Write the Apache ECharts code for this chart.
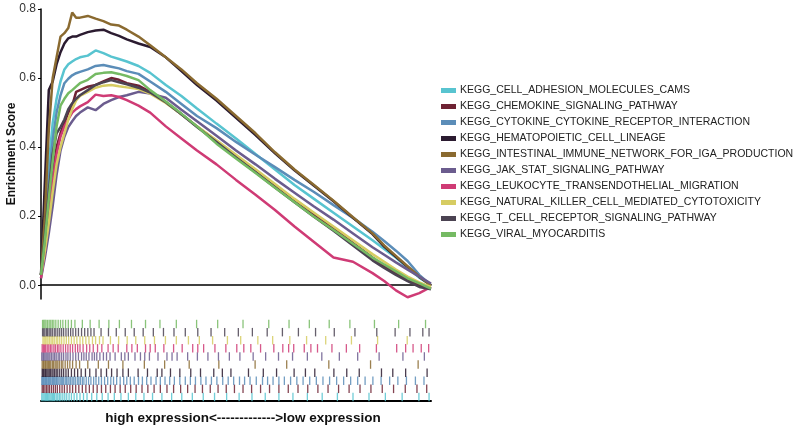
<!DOCTYPE html>
<html>
<head>
<meta charset="utf-8">
<script src="https://cdn.jsdelivr.net/npm/echarts@6/dist/echarts.min.js"></script>
<style>
html,body{margin:0;padding:0;background:#fff;}
#chart{width:800px;height:426px;}
</style>
</head>
<body>
<div id="chart"></div>
<script>
// Gene set names (legend order)
const setNames = [
  'KEGG_CELL_ADHESION_MOLECULES_CAMS',
  'KEGG_CHEMOKINE_SIGNALING_PATHWAY',
  'KEGG_CYTOKINE_CYTOKINE_RECEPTOR_INTERACTION',
  'KEGG_HEMATOPOIETIC_CELL_LINEAGE',
  'KEGG_INTESTINAL_IMMUNE_NETWORK_FOR_IGA_PRODUCTION',
  'KEGG_JAK_STAT_SIGNALING_PATHWAY',
  'KEGG_LEUKOCYTE_TRANSENDOTHELIAL_MIGRATION',
  'KEGG_NATURAL_KILLER_CELL_MEDIATED_CYTOTOXICITY',
  'KEGG_T_CELL_RECEPTOR_SIGNALING_PATHWAY',
  'KEGG_VIRAL_MYOCARDITIS'
];
const setColors = ['#58C4D0','#6E2233','#5B8DB8','#2B1B30','#8A6A30','#6B5C8E','#CF3B75','#D6CC62','#4B4352','#75BA63'];

// Rank position (% of ranked gene list)
const rankPct = [0,1,2,3,4,5,6,7,8,9,10,12,14,16,18,20,22,25,28,32,36,40,45,50,55,60,65,70,75,80,85,88,91,94,97,100];

// Running enrichment scores
const esCellAdhesion = [0.03,0.18,0.35,0.47,0.54,0.59,0.625,0.64,0.648,0.655,0.66,0.665,0.68,0.672,0.662,0.655,0.648,0.635,0.615,0.58,0.548,0.512,0.468,0.425,0.38,0.335,0.29,0.25,0.21,0.17,0.13,0.105,0.08,0.05,0.022,0.0];
const esChemokine = [0.03,0.12,0.22,0.32,0.40,0.44,0.47,0.50,0.52,0.56,0.565,0.575,0.58,0.59,0.60,0.595,0.585,0.578,0.56,0.53,0.495,0.46,0.418,0.375,0.332,0.288,0.245,0.205,0.165,0.122,0.08,0.055,0.035,0.015,0.0,-0.01];
const esCytokine = [0.03,0.15,0.30,0.42,0.50,0.55,0.585,0.598,0.608,0.614,0.618,0.625,0.635,0.638,0.633,0.628,0.62,0.612,0.59,0.56,0.525,0.49,0.455,0.415,0.378,0.342,0.305,0.27,0.232,0.195,0.155,0.128,0.10,0.07,0.03,0.0];
const esHematopoietic = [0.03,0.30,0.565,0.59,0.64,0.675,0.70,0.715,0.72,0.72,0.725,0.733,0.738,0.74,0.73,0.722,0.712,0.70,0.69,0.66,0.62,0.58,0.535,0.485,0.435,0.382,0.333,0.288,0.243,0.195,0.148,0.112,0.082,0.053,0.024,0.0];
const esIntestinal = [0.03,0.20,0.45,0.60,0.66,0.72,0.73,0.745,0.79,0.775,0.775,0.78,0.772,0.765,0.755,0.752,0.74,0.72,0.695,0.66,0.625,0.585,0.54,0.49,0.44,0.385,0.335,0.29,0.245,0.197,0.15,0.115,0.085,0.055,0.025,0.0];
const esJakStat = [0.02,0.08,0.15,0.23,0.32,0.39,0.43,0.458,0.475,0.49,0.50,0.515,0.507,0.525,0.536,0.545,0.55,0.56,0.555,0.543,0.508,0.475,0.433,0.39,0.35,0.308,0.268,0.228,0.19,0.15,0.11,0.088,0.066,0.045,0.025,0.005];
const esLeukocyte = [0.02,0.10,0.20,0.30,0.38,0.43,0.46,0.48,0.50,0.51,0.518,0.53,0.552,0.548,0.55,0.545,0.536,0.52,0.50,0.46,0.425,0.39,0.35,0.305,0.262,0.218,0.17,0.125,0.08,0.068,0.035,0.012,-0.015,-0.035,-0.023,-0.005];
const esNaturalKiller = [0.03,0.10,0.18,0.27,0.35,0.40,0.44,0.48,0.51,0.535,0.548,0.56,0.572,0.578,0.58,0.576,0.573,0.568,0.555,0.528,0.495,0.46,0.42,0.378,0.336,0.293,0.25,0.21,0.17,0.13,0.09,0.068,0.045,0.025,0.008,-0.005];
const esTCell = [0.03,0.14,0.27,0.38,0.44,0.458,0.48,0.51,0.527,0.54,0.55,0.565,0.58,0.588,0.594,0.588,0.582,0.572,0.558,0.53,0.495,0.458,0.415,0.37,0.327,0.283,0.24,0.198,0.158,0.115,0.072,0.05,0.03,0.012,-0.005,-0.012];
const esViral = [0.03,0.13,0.25,0.36,0.46,0.52,0.54,0.556,0.565,0.575,0.585,0.595,0.612,0.615,0.617,0.612,0.606,0.594,0.565,0.532,0.497,0.46,0.41,0.367,0.325,0.282,0.24,0.198,0.16,0.12,0.08,0.06,0.04,0.02,0.005,-0.01];

// Hit positions (% of ranked list) for the rug panel
const hitsCellAdhesion = [0.2,0.5,0.8,1.1,1.4,1.7,2.0,2.3,2.6,2.9,3.2,3.5,3.9,4.3,4.7,5.1,5.6,6.1,6.6,7.2,7.8,8.5,9.2,10.0,10.9,11.8,13.0,14.3,15.7,17.2,18.8,20.5,22.4,24.3,26.4,28.6,31.0,33.5,36.1,38.8,41.6,44.5,47.6,50.8,54.1,57.5,61.0,64.6,68.3,72.1,76.0,80.0,84.1,88.3,92.6,96.9,99.5];
const hitsChemokine = [0.3,0.6,1.0,1.4,1.8,2.2,2.7,3.2,3.7,4.2,4.8,5.4,6.0,6.7,7.4,8.1,8.9,9.7,10.6,11.5,12.4,13.4,14.4,15.5,16.6,17.8,19.0,20.3,21.6,23.0,24.4,25.9,27.4,29.0,30.6,32.3,34.0,35.8,37.6,39.5,41.4,43.4,45.4,47.5,49.6,51.8,54.0,56.3,58.6,61.0,63.4,65.9,68.4,71.0,73.6,76.3,79.0,81.8,84.6,87.5,90.4,93.4,96.4,98.9];
const hitsCytokine = [0.2,0.4,0.6,0.8,1.0,1.2,1.4,1.6,1.9,2.1,2.3,2.5,2.8,3.0,3.2,3.5,3.8,4.0,4.3,4.6,4.9,5.2,5.5,5.8,6.2,6.5,6.9,7.2,7.6,8.0,8.4,8.8,9.3,9.7,10.1,10.6,11.0,11.6,12.2,12.8,13.5,14.1,14.8,15.5,16.3,17.1,17.9,18.6,19.4,20.3,21.2,22.0,22.9,23.9,25.0,26.0,27.1,28.2,29.5,30.6,31.8,33.0,34.2,35.6,37.0,38.3,39.6,41.0,42.3,43.7,45.1,46.6,48.0,49.4,50.9,52.2,53.6,55.2,56.8,58.1,59.5,61.0,62.4,64.0,65.6,67.2,68.9,70.6,72.3,74.0,75.8,77.6,79.4,81.2,83.1,85.1,87.2,89.4,91.5,93.7,96.0,98.2];
const hitsHematopoietic = [0.3,0.5,0.7,1.0,1.2,1.5,1.8,2.1,2.4,2.8,3.1,3.5,3.9,4.3,4.8,5.3,5.8,6.4,7.0,7.8,8.6,9.4,10.3,11.4,12.5,14.1,15.4,16.8,18.1,19.5,21.0,22.4,24.9,27.3,29.8,31.0,33.2,35.6,38.4,40.9,44.3,46.5,48.7,53.2,57.0,60.4,64.9,67.8,70.2,75.1,78.4,81.6,87.3,90.2,93.5,99.0];
const hitsIntestinal = [0.3,0.6,0.8,1.1,1.3,1.6,1.9,2.2,2.5,2.9,3.2,3.6,3.9,4.3,4.7,5.2,5.6,6.2,6.8,7.4,8.1,9.0,9.9,12.0,14.7,17.3,21.0,26.5,31.7,38.0,45.6,54.9,63.0,73.8,84.5,96.7];
const hitsJakStat = [0.2,0.5,0.7,1.0,1.3,1.6,2.0,2.3,2.7,3.1,3.5,3.9,4.4,4.8,5.3,5.8,6.4,6.9,7.5,8.2,8.9,9.6,10.4,11.0,11.6,12.3,13.1,13.7,14.3,15.1,16.0,16.8,17.7,19.0,20.6,21.5,22.4,24.1,25.5,26.6,27.8,30.0,32.3,33.6,34.9,37.6,40.1,42.8,45.5,48.3,51.0,54.4,57.6,60.9,64.5,68.3,72.0,76.5,81.2,86.7,92.8,98.3];
const hitsLeukocyte = [0.3,0.6,0.9,1.2,1.6,2.0,2.4,2.8,3.3,3.7,4.2,4.6,5.1,5.7,6.3,6.9,7.5,8.1,8.8,9.4,10.0,10.8,11.7,12.5,13.4,14.5,15.6,17.2,18.5,19.8,22.0,23.3,24.7,26.8,28.0,29.3,31.5,34.0,36.2,38.9,40.2,41.7,44.6,47.4,50.2,52.0,53.8,56.3,59.7,62.0,63.5,64.8,67.5,69.2,70.9,74.6,78.3,81.7,86.0,91.2,93.5,95.4,97.5,99.4];
const hitsNaturalKiller = [0.5,0.8,1.1,1.5,1.8,2.2,2.6,3.0,3.4,3.9,4.3,4.8,5.3,5.9,6.5,7.1,7.8,8.5,9.2,10.0,10.7,11.5,12.3,13.2,14.0,15.0,15.9,17.8,19.9,22.1,24.3,26.6,29.1,31.9,34.7,37.8,40.6,44.0,47.8,51.2,55.6,59.4,63.8,68.1,73.0,79.6,86.3,93.9];
const hitsTCell = [0.4,0.7,1.0,1.4,1.7,2.1,2.5,2.9,3.4,3.8,4.3,4.8,5.3,5.8,6.4,7.0,7.6,8.2,8.9,9.6,10.4,11.2,12.0,12.8,13.6,15.4,17.3,19.3,21.6,23.9,26.2,28.8,31.4,34.1,37.0,40.2,43.6,47.1,50.6,54.2,58.0,61.9,66.0,70.4,75.2,80.5,86.1,90.8,94.6,97.9,99.5];
const hitsViral = [0.4,0.7,1.0,1.3,1.7,2.1,2.5,2.9,3.3,3.8,4.4,5.0,5.6,6.3,7.0,7.8,8.7,10.6,12.6,14.9,17.4,20.1,23.2,26.8,30.5,34.7,39.9,45.3,51.8,58.4,63.6,68.8,73.9,79.2,85.5,91.7,98.6];

const yTicks = [0, 0.2, 0.4, 0.6, 0.8];
const xAxisLabel = 'high expression<------------->low expression';

const esList = [esCellAdhesion, esChemokine, esCytokine, esHematopoietic, esIntestinal, esJakStat, esLeukocyte, esNaturalKiller, esTCell, esViral];
const hitList = [hitsCellAdhesion, hitsChemokine, hitsCytokine, hitsHematopoietic, hitsIntestinal, hitsJakStat, hitsLeukocyte, hitsNaturalKiller, hitsTCell, hitsViral];

const chart = echarts.init(document.getElementById('chart'));

const lineSeries = setNames.map((name, i) => ({
  name: name,
  type: 'line',
  xAxisIndex: 0,
  yAxisIndex: 0,
  data: rankPct.map((x, k) => [x, esList[i][k]]),
  showSymbol: false,
  color: setColors[i],
  lineStyle: { width: 2.5, color: setColors[i] },
  z: 2
}));

const rugSeries = setNames.map((name, i) => ({
  name: 'hits_' + i,
  type: 'scatter',
  xAxisIndex: 1,
  yAxisIndex: 1,
  data: hitList[i].map(x => [x, i]),
  symbol: 'rect',
  symbolSize: [1.3, 8.5],
  itemStyle: { color: setColors[i], opacity: 0.85 },
  silent: true
}));

chart.setOption({
  animation: false,
  textStyle: { fontFamily: 'Liberation Sans, Arial, sans-serif' },
  legend: {
    data: setNames,
    orient: 'vertical',
    left: 436,
    top: 80,
    icon: 'rect',
    itemWidth: 15,
    itemHeight: 5,
    itemGap: 5,
    textStyle: { fontSize: 10.5, color: '#222', padding: [0, 0, 0, -1] }
  },
  grid: [
    { left: 41, right: 369, top: 9, bottom: 127 },
    { left: 41, right: 369, top: 320, bottom: 19 }
  ],
  xAxis: [
    {
      type: 'value', gridIndex: 0, min: 0, max: 100,
      axisLine: { show: true, onZero: true, lineStyle: { color: '#000', width: 1.5 } },
      axisTick: { show: false }, axisLabel: { show: false }, splitLine: { show: false }
    },
    {
      type: 'value', gridIndex: 1, min: 0, max: 100,
      axisLine: { show: true, lineStyle: { color: '#000', width: 2 } },
      axisTick: { show: false }, axisLabel: { show: false }, splitLine: { show: false },
      name: xAxisLabel, nameLocation: 'middle', nameGap: 10,
      nameTextStyle: { fontSize: 13.5, fontWeight: 'bold', color: '#111', padding: [0, 0, 0, 14] }
    }
  ],
  yAxis: [
    {
      type: 'value', gridIndex: 0, min: -0.04, max: 0.8,
      axisLine: { show: true, lineStyle: { color: '#000', width: 1.5 } },
      axisTick: { show: true, length: 3, customValues: yTicks, lineStyle: { color: '#000' } },
      axisLabel: { customValues: yTicks, formatter: v => v.toFixed(1), fontSize: 12, color: '#333', margin: 5 },
      splitLine: { show: false },
      name: 'Enrichment Score', nameLocation: 'middle', nameGap: 23, nameMoveOverlap: false,
      nameTextStyle: { fontSize: 12, fontWeight: 'bold', color: '#111' }
    },
    {
      type: 'category', gridIndex: 1,
      data: setNames.map((n, i) => String(i)),
      show: false
    }
  ],
  series: lineSeries.concat(rugSeries)
});
</script>
</body>
</html>
